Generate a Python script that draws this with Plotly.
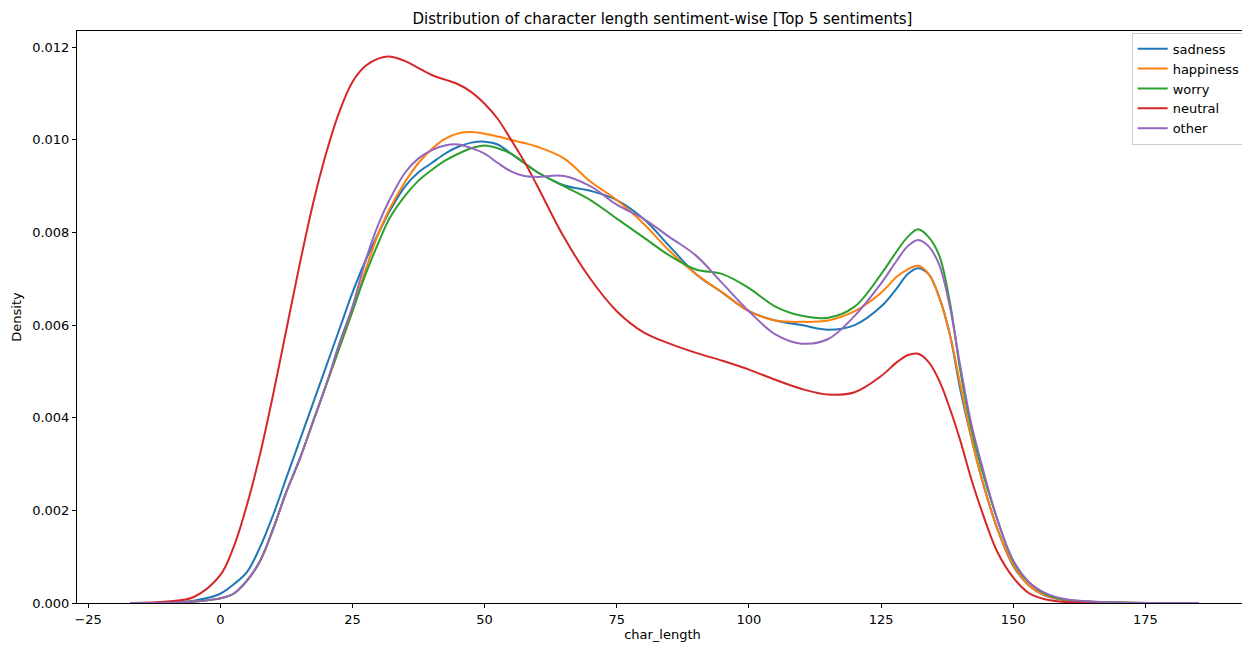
import plotly.graph_objects as go

char_length = [-17, -10, -5, 0, 2.5, 5, 7.5, 10, 12.5, 15, 17.5, 20, 22.5, 25, 27.5, 30, 32, 35,
               37.5, 40, 42.5, 45, 47.5, 50, 52.5, 55, 57.5, 60, 65, 70, 75, 80, 85, 90, 95,
               100, 105, 110, 115, 120, 125, 128, 130, 132, 134, 136, 138, 140, 142, 144,
               147, 150, 153, 156, 160, 170, 185]

neutral = [0, 0.00003, 0.00013, 0.0006, 0.0012, 0.0021, 0.0032, 0.0045, 0.0059, 0.0073, 0.0086,
           0.0097, 0.0106, 0.01125, 0.0116, 0.01176, 0.0118, 0.0117,
           0.01155, 0.0114, 0.0113, 0.0112, 0.01103, 0.01078, 0.01045, 0.0100, 0.00953, 0.0090,
           0.0079, 0.0070, 0.0063, 0.00585, 0.0056, 0.0054, 0.00523,
           0.00504, 0.00482, 0.00462, 0.0045, 0.00455, 0.0049, 0.0052, 0.00535, 0.00538, 0.0052,
           0.0048, 0.0042, 0.0035, 0.0027, 0.0020,
           0.0011, 0.00055, 0.00021, 0.00008, 0.00002, 0, 0]

sadness = [0, 0.00001, 0.00005, 0.0002, 0.0004, 0.00066, 0.0012, 0.0019, 0.0027, 0.0035, 0.0043,
           0.0051, 0.0059, 0.0067, 0.0074, 0.0080, 0.00845, 0.0090,
           0.0093, 0.0095, 0.0097, 0.00985, 0.00994, 0.00996, 0.0099, 0.0097, 0.0095, 0.0093,
           0.00902, 0.0089, 0.0087, 0.0083, 0.0077, 0.0071, 0.0067,
           0.0063, 0.0061, 0.0060, 0.0059, 0.0060, 0.0064, 0.0068, 0.0071, 0.00723, 0.0071,
           0.0066, 0.0058, 0.0046, 0.0036, 0.0027,
           0.0016, 0.0008, 0.00037, 0.00016, 0.00006, 0.00001, 0]

happiness = [0, 0.000005, 0.00003, 0.0001, 0.0002, 0.00048, 0.0009, 0.0016, 0.0024, 0.0031, 0.0039,
             0.0047, 0.0055, 0.0063, 0.0072, 0.0080, 0.0085, 0.0091,
             0.0095, 0.0098, 0.01002, 0.01014, 0.01017, 0.01013, 0.01007, 0.0100, 0.00993, 0.00985,
             0.0096, 0.0091, 0.0087, 0.0082, 0.0076, 0.0071, 0.0067,
             0.0063, 0.0061, 0.00607, 0.0061, 0.0063, 0.0067, 0.00705, 0.0072, 0.00728, 0.0071,
             0.0066, 0.0058, 0.0047, 0.0036, 0.0027,
             0.0016, 0.00082, 0.00038, 0.00017, 0.00006, 0.00001, 0]

worry = [0, 0.000005, 0.00003, 0.0001, 0.0002, 0.00047, 0.0009, 0.0016, 0.0024, 0.0031, 0.0039,
         0.0047, 0.0055, 0.0063, 0.0071, 0.0078, 0.0083, 0.0088,
         0.00912, 0.00935, 0.00955, 0.0097, 0.00982, 0.00988, 0.00982, 0.0097, 0.0095, 0.0093,
         0.0090, 0.0087, 0.0083, 0.0079, 0.0075, 0.0072, 0.0071,
         0.0068, 0.0064, 0.0062, 0.00616, 0.0064, 0.0071, 0.0076, 0.0079, 0.00807, 0.0079,
         0.0075, 0.0065, 0.0050, 0.0038, 0.0029,
         0.0018, 0.0009, 0.00044, 0.0002, 0.00007, 0.00001, 0]

other = [0, 0.000005, 0.00003, 0.0001, 0.0002, 0.00048, 0.0009, 0.0016, 0.0024, 0.0031, 0.0039,
         0.0047, 0.0056, 0.0064, 0.0074, 0.0082, 0.0087, 0.0093,
         0.0096, 0.00978, 0.00988, 0.0099, 0.00982, 0.0097, 0.0095, 0.00932, 0.00922, 0.0092,
         0.00922, 0.0090, 0.0086, 0.0083, 0.0079, 0.0075, 0.0069,
         0.0063, 0.0058, 0.0056, 0.0057, 0.0062, 0.0069, 0.0074, 0.0077, 0.00784, 0.0077,
         0.0073, 0.0064, 0.0051, 0.0039, 0.0030,
         0.0018, 0.00092, 0.00045, 0.00022, 0.00008, 0.00001, 0]

series_names = ["sadness", "happiness", "worry", "neutral", "other"]
series_values = [sadness, happiness, worry, neutral, other]
colors = ["#1f77b4", "#ff7f0e", "#2ca02c", "#d62728", "#9467bd"]

x_ticks = [-25, 0, 25, 50, 75, 100, 125, 150, 175]
x_tick_text = ["\u221225", "0", "25", "50", "75", "100", "125", "150", "175"]
y_ticks = [0, 0.002, 0.004, 0.006, 0.008, 0.010, 0.012]

fig = go.Figure()
for name, vals, col in zip(series_names, series_values, colors):
    fig.add_trace(go.Scatter(x=char_length, y=vals, mode="lines", name=name,
                             line=dict(color=col, width=2, shape="spline", smoothing=1.0)))

# page body has an 8px margin, so the figure is sized to end at the window edge
W, H = 1242, 642
fig.update_layout(
    width=W, height=H,
    paper_bgcolor="white", plot_bgcolor="white",
    margin=dict(l=69, r=2, t=23, b=47),
    font=dict(family="DejaVu Sans", size=13, color="black"),
    title=dict(text="Distribution of character length sentiment-wise [Top 5 sentiments]",
               x=0.5, xref="paper", xanchor="center", y=1 - 10.5 / H, yanchor="middle",
               yref="container", font=dict(size=15, color="black")),
    legend=dict(x=0.998, xanchor="right", y=0.997, yanchor="top",
                bordercolor="#cccccc", borderwidth=1, bgcolor="white",
                font=dict(size=13), itemwidth=30, tracegroupgap=0),
    showlegend=True,
)
fig.update_xaxes(range=[-27.1, 194.4], tickvals=x_ticks, ticktext=x_tick_text,
                 showgrid=False, zeroline=False, showline=True, mirror=True,
                 linecolor="black", linewidth=1, ticks="outside", ticklen=4,
                 tickcolor="black", tickfont=dict(size=13),
                 title=dict(text="char_length", font=dict(size=13), standoff=4))
fig.update_yaxes(range=[0, 0.01235], tickvals=y_ticks, tickformat=".3f",
                 showgrid=False, zeroline=False, showline=True, mirror=True,
                 linecolor="black", linewidth=1, ticks="outside", ticklen=4,
                 tickcolor="black", tickfont=dict(size=13),
                 title=dict(text="Density", font=dict(size=13), standoff=7))

fig.write_html("out.html")
